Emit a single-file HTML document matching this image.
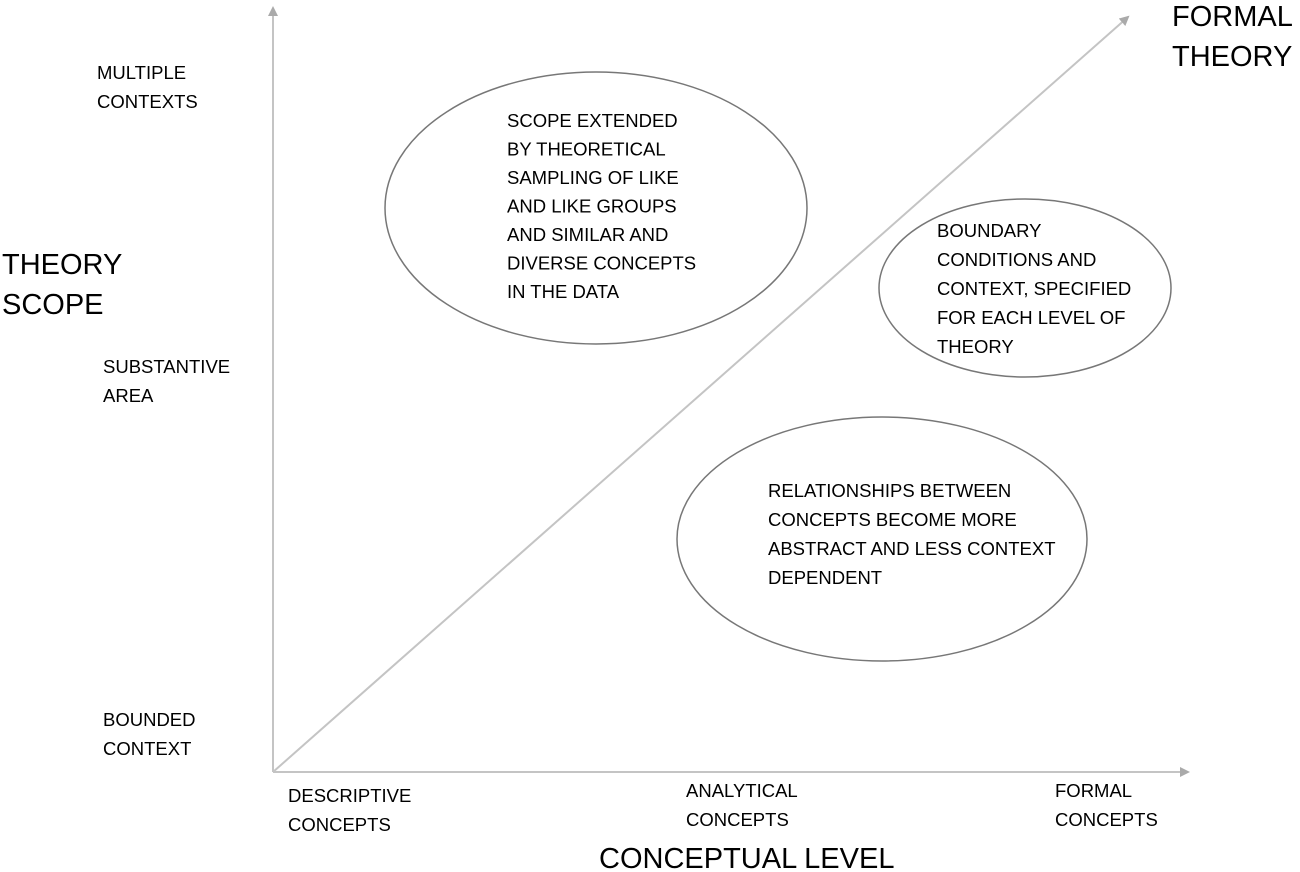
<!DOCTYPE html>
<html><head><meta charset="utf-8"><style>
html,body{margin:0;padding:0;background:#fff;}
svg{display:block;}
text{font-family:"Liberation Sans",sans-serif;fill:#000;}
.s{font-size:18.5px;}
.b{font-size:29px;}
</style></head><body>
<svg width="1300" height="872" viewBox="0 0 1300 872">
<defs><marker id="a" markerWidth="10" markerHeight="10" refX="8" refY="5" orient="auto" markerUnits="userSpaceOnUse"><path d="M0,0 L10,5 L0,10 z" fill="#aaa"/></marker></defs>
<g stroke="#c4c4c4" stroke-width="2" fill="none">
<line x1="273" y1="772" x2="273" y2="8" marker-end="url(#a)"/>
<line x1="273" y1="772" x2="1188" y2="772" marker-end="url(#a)"/>
<line x1="273" y1="772" x2="1128" y2="17" marker-end="url(#a)"/>
</g>
<g stroke="#777" stroke-width="1.5" fill="#fff">
<ellipse cx="596" cy="208" rx="211" ry="136"/>
<ellipse cx="1025" cy="288" rx="146" ry="89"/>
<ellipse cx="882" cy="539" rx="205" ry="122"/>
</g>
<g class="s">
<text x="97" y="79">MULTIPLE</text><text x="97" y="108">CONTEXTS</text>
<text x="103" y="373">SUBSTANTIVE</text><text x="103" y="402">AREA</text>
<text x="103" y="726">BOUNDED</text><text x="103" y="755">CONTEXT</text>
<text x="288" y="802">DESCRIPTIVE</text><text x="288" y="831">CONCEPTS</text>
<text x="686" y="797">ANALYTICAL</text><text x="686" y="826">CONCEPTS</text>
<text x="1055" y="797">FORMAL</text><text x="1055" y="826">CONCEPTS</text>
<text x="507" y="127">SCOPE EXTENDED</text>
<text x="507" y="155.5">BY THEORETICAL</text>
<text x="507" y="184">SAMPLING OF LIKE</text>
<text x="507" y="212.5">AND LIKE GROUPS</text>
<text x="507" y="241">AND SIMILAR AND</text>
<text x="507" y="269.5">DIVERSE CONCEPTS</text>
<text x="507" y="298">IN THE DATA</text>
<text x="937" y="237">BOUNDARY</text>
<text x="937" y="266">CONDITIONS AND</text>
<text x="937" y="295">CONTEXT, SPECIFIED</text>
<text x="937" y="324">FOR EACH LEVEL OF</text>
<text x="937" y="353">THEORY</text>
<text x="768" y="497">RELATIONSHIPS BETWEEN</text>
<text x="768" y="526">CONCEPTS BECOME MORE</text>
<text x="768" y="555">ABSTRACT AND LESS CONTEXT</text>
<text x="768" y="584">DEPENDENT</text>
</g>
<g class="b">
<text x="2" y="274">THEORY</text><text x="2" y="314">SCOPE</text>
<text x="1172" y="26">FORMAL</text><text x="1172" y="66">THEORY</text>
<text x="599" y="868">CONCEPTUAL LEVEL</text>
</g>
</svg>
</body></html>
